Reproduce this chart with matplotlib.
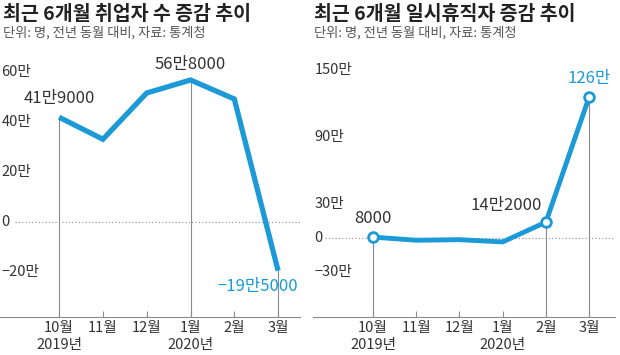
import matplotlib.pyplot as plt
import matplotlib.transforms as mtrans

plt.rcParams['font.family'] = ['Noto Sans CJK KR', 'DejaVu Sans']

# data (단위: 만 명)
months = ['10월\n2019년', '11월', '12월', '1월\n2020년', '2월', '3월']
employed = [41.9, 33.1, 51.6, 56.8, 49.2, -19.5]
on_leave = [0.8, -2.0, -1.5, -3.5, 14.2, 126.0]

left_ticks = [60, 40, 20, 0, -20]
left_ticklabels = ['60만', '40만', '20만', '0', '−20만']
right_ticks = [150, 90, 30, 0, -30]
right_ticklabels = ['150만', '90만', '30만', '0', '−30만']

BLUE = '#1b9ad7'
GRAY = '#8a8a8a'
TXT = '#333333'

W, H = 620, 355
fig = plt.figure(figsize=(W / 100, H / 100), dpi=100)


def px_axes(x0, y0, x1, y1):
    # pixel box (top-left origin) -> figure fraction
    return fig.add_axes([x0 / W, 1 - y1 / H, (x1 - x0) / W, (y1 - y0) / H])


def setup(ax, ticks, ticklabels, dot_start):
    for s in ['top', 'right', 'left']:
        ax.spines[s].set_visible(False)
    ax.spines['bottom'].set_color(GRAY)
    ax.spines['bottom'].set_linewidth(0.8)
    ax.set_yticks([])
    ax.set_xticks(range(len(months)))
    ax.set_xticklabels(months, fontsize=10.5, color=TXT, linespacing=1.25)
    ax.tick_params(axis='x', direction='in', length=4, color=GRAY, pad=3)
    ax.patch.set_alpha(0)
    trans = mtrans.blended_transform_factory(ax.transAxes, ax.transData)
    for v, lab in zip(ticks, ticklabels):
        ax.text(0.005, v, lab, transform=trans, ha='left', va='center',
                fontsize=10.5, color=TXT)
    ax.plot([dot_start, 1.0], [0, 0], transform=trans, color=GRAY,
            lw=0.8, ls=(0, (1, 2)))


# left chart
ax1 = px_axes(0, 55, 300, 317)
ax1.set_xlim(-1.35, 5.5)
ax1.set_ylim(-38, 66.8)
setup(ax1, left_ticks, left_ticklabels, 0.05)
for i in [0, 3, 5]:
    ax1.plot([i, i], [-38, employed[i]], color=GRAY, lw=0.8)
ax1.plot(range(6), employed, color=BLUE, lw=3.8, solid_capstyle='butt',
         solid_joinstyle='miter')
ax1.text(0, employed[0] + 4, '41만9000', ha='center', va='bottom',
         fontsize=12, color=TXT)
ax1.text(3, employed[3] + 3, '56만8000', ha='center', va='bottom',
         fontsize=12, color=TXT)
ax1.text(5.45, employed[5] - 3, '−19만5000', ha='right', va='top',
         fontsize=12, color=BLUE)

# right chart
ax2 = px_axes(313, 55, 615, 317)
ax2.set_xlim(-1.39, 5.6)
ax2.set_ylim(-70.7, 163.8)
setup(ax2, right_ticks, right_ticklabels, 0.04)
for i in [0, 4, 5]:
    ax2.plot([i, i], [-70.7, on_leave[i]], color=GRAY, lw=0.8)
ax2.plot(range(6), on_leave, color=BLUE, lw=3.5, solid_joinstyle='miter')
for i in [0, 4, 5]:
    ax2.plot(i, on_leave[i], 'o', ms=7, mfc='white', mec=BLUE, mew=2)
ax2.text(0, on_leave[0] + 9, '8000', ha='center', va='bottom',
         fontsize=12, color=TXT)
ax2.text(3.9, on_leave[4] + 7, '14만2000', ha='right', va='bottom',
         fontsize=12, color=TXT)
ax2.text(5, on_leave[5] + 9, '126만', ha='center', va='bottom',
         fontsize=12, color=BLUE)

# titles
for x0, title in [(3, '최근 6개월 취업자 수 증감 추이'),
                  (314, '최근 6개월 일시휴직자 증감 추이')]:
    fig.text(x0 / W, 1 - 14 / H, title, ha='left', va='center',
             fontsize=14, fontweight='bold', color='#222222')
    fig.text(x0 / W, 1 - 33 / H, '단위: 명, 전년 동월 대비, 자료: 통계청',
             ha='left', va='center', fontsize=9.5, color='#555555')

fig.savefig('out.png', dpi=100)
